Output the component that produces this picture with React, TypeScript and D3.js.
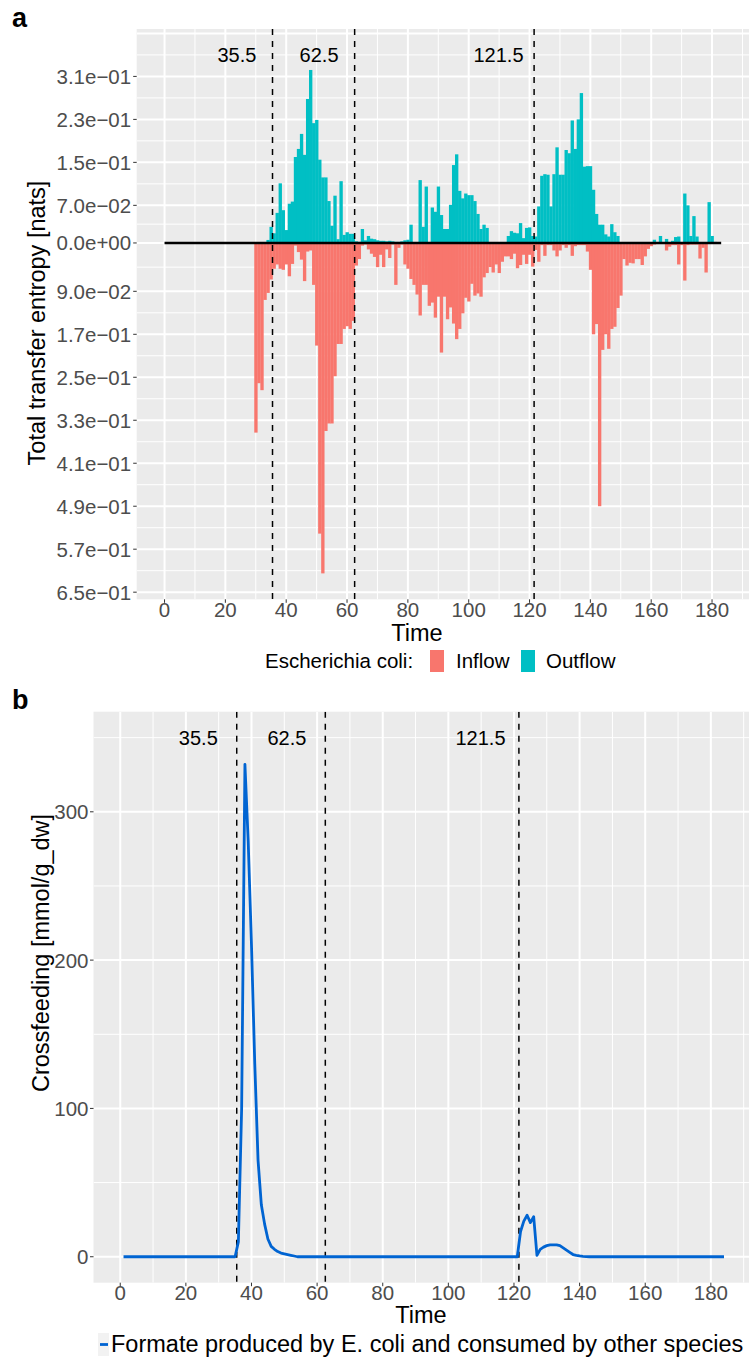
import React from "react";
import * as d3 from "d3";

const FONT = "'Liberation Sans', Arial, Helvetica, sans-serif";

// ---------- Panel a data ----------
const barTimes = d3.range(29, 183); // time points 29..182
const outflow = [
  0, 0, 0, 0, 0, 0.0056, 0.03, 0.018, 0.056, 0.111,
  0.061, 0.024, 0.073, 0.077, 0.16, 0.175, 0.203, 0.164, 0.268, 0.322,
  0.223, 0.229, 0.155, 0.122, 0.122, 0.078, 0.032, 0.088, 0.007, 0.115,
  0.015, 0.02, 0.017, 0.017, 0.003, 0.002, 0.026, 0.005, 0.013, 0.008,
  0.007, 0.005, 0.004, 0.004, 0.003, 0.004, 0.003, 0.002, 0.002, 0.003,
  0.005, 0.006, 0.034, 0, 0, 0.117, 0.03, 0.105, 0, 0.066,
  0.058, 0.105, 0.052, 0.026, 0.026, 0.071, 0.145, 0.165, 0.097, 0.083,
  0.092, 0.089, 0.089, 0.078, 0.054, 0.026, 0.034, 0.028, 0, 0,
  0, 0, 0, 0, 0.013, 0.022, 0.019, 0.018, 0.037, 0.009,
  0.028, 0.029, 0.013, 0.012, 0.068, 0.125, 0.128, 0.127, 0.068, 0.128,
  0.178, 0.127, 0.127, 0.173, 0.167, 0.228, 0.175, 0.23, 0.279, 0.142,
  0.143, 0.143, 0.099, 0.054, 0.034, 0.034, 0.016, 0.012, 0.035, 0.02,
  0.013, 0, 0, 0, 0, 0, 0, 0, 0, 0,
  0, 0, 0.006, 0, 0.013, 0, 0.0075, 0, 0.004, 0.011,
  0.012, 0, 0.092, 0.07, 0.013, 0.05, 0.012, 0, 0, 0,
  0.076, 0.013, 0.002, 0,
];
const inflow = [
  0, 0.353, 0.261, 0.274, 0.106, 0.093, 0.068, 0.048, 0.04, 0.048,
  0.05, 0.04, 0.062, 0.039, 0.005, 0.017, 0.031, 0.071, 0.016, 0.014,
  0.078, 0.191, 0.541, 0.615, 0.35, 0.336, 0.336, 0.248, 0.188, 0.188,
  0.16, 0.155, 0.16, 0.145, 0.042, 0.03, 0.005, 0.003, 0.012, 0.02,
  0.026, 0.045, 0.022, 0.045, 0.012, 0.028, 0.003, 0.078, 0.009, 0.003,
  0.04, 0.048, 0.067, 0.078, 0.096, 0.135, 0.078, 0.078, 0.117, 0.111,
  0.139, 0.1, 0.204, 0.1, 0.142, 0.12, 0.15, 0.179, 0.16, 0.131,
  0.102, 0.109, 0.076, 0.098, 0.094, 0.1, 0.064, 0.056, 0.045, 0.055,
  0.04, 0.056, 0.035, 0.025, 0.025, 0.03, 0.02, 0.047, 0.041, 0.022,
  0.039, 0.022, 0.044, 0.013, 0.035, 0.004, 0.024, 0.004, 0.004, 0.014,
  0.025, 0.014, 0.004, 0.009, 0.004, 0.024, 0.006, 0.004, 0.004, 0.004,
  0.016, 0.05, 0.17, 0.151, 0.49, 0.199, 0.17, 0.197, 0.16, 0.156,
  0.121, 0.098, 0.03, 0.042, 0.037, 0.038, 0.03, 0.03, 0.041, 0.025,
  0.011, 0.006, 0.003, 0.002, 0.002, 0.002, 0.014, 0.007, 0.004, 0.004,
  0.04, 0.004, 0.07, 0.004, 0.003, 0.003, 0.003, 0.029, 0.009, 0.055,
  0, 0, 0, 0,
];
const zeroLineRange = [0, 183];
const yBreaksA = [0.31, 0.23, 0.15, 0.07, 0, -0.09, -0.17, -0.25, -0.33, -0.41, -0.49, -0.57, -0.65];
const yLabelsA = ["3.1e\u221201", "2.3e\u221201", "1.5e\u221201", "7.0e\u221202", "0.0e+00", "9.0e\u221202", "1.7e\u221201", "2.5e\u221201", "3.3e\u221201", "4.1e\u221201", "4.9e\u221201", "5.7e\u221201", "6.5e\u221201"];
const yGridExtraA = [0.39];
const annotYA = 0.35;

// ---------- Panel b data ----------
const crossTimes = [1, 35, 36, 37, 38, 39, 40, 41, 42, 43, 44, 45, 46, 47, 48, 49, 50, 51, 52, 53, 54,
  121, 122, 123, 124, 125, 126, 127, 128, 129, 130, 131, 132, 133, 134, 135, 136, 137, 138, 139, 140, 141, 142, 143, 184];
const crossValues = [0, 0, 10, 100, 332, 280, 210, 130, 65, 35, 22, 12, 7, 5, 3.5, 2.5, 2, 1.5, 1, 0.5, 0,
  0, 17, 24, 28, 23, 27, 1, 5, 6.5, 7.5, 8, 8, 8, 7.5, 6, 4.5, 3, 1.5, 1, 0.6, 0.3, 0.1, 0, 0];
const yBreaksB = [0, 100, 200, 300];
const annotYB = 350;

// ---------- shared ----------
const xBreaks = [0, 20, 40, 60, 80, 100, 120, 140, 160, 180];
const xMinor = [10, 30, 50, 70, 90, 110, 130, 150, 170, 190];
const vlines = [35.5, 62.5, 121.5];
const legendTitleA = "Escherichia coli:";
const legendLabelsA = ["Inflow", "Outflow"];
const legendLabelB = "Formate produced by E. coli and consumed by other species";

const INFLOW = "#F8766D";
const OUTFLOW = "#00BFC4";
const LINE_B = "#0064D2";
const BG = "#EBEBEB";
const TICK_TXT = "#4D4D4D";

function midpoints(arr: number[]) {
  const s = [...arr].sort((a, b) => a - b);
  const m: number[] = [];
  for (let i = 0; i < s.length - 1; i++) m.push((s[i] + s[i + 1]) / 2);
  return m;
}

export default function App() {
  const W = 749, H = 1360;

  // Panel a geometry
  const pa = { l: 136.7, r: 749, t: 29, b: 599.3 };
  const ax = d3.scaleLinear().domain([-9.15, 192.15]).range([pa.l, pa.r]);
  const ay = d3.scaleLinear().domain([-0.66325, 0.39825]).range([pa.b, pa.t]);
  const majorYA = [...yGridExtraA, ...yBreaksA];
  const minorYA = midpoints(majorYA);

  // Panel b geometry
  const pb = { l: 93.5, r: 754, t: 711.7, b: 1282.7 };
  const bx = d3.scaleLinear().domain([-8.15, 193.15]).range([pb.l, pb.r]);
  const by = d3.scaleLinear().domain([-17.5, 367.5]).range([pb.b, pb.t]);
  const minorYB = [50, 150, 250, 350];

  const line = d3.line<number>().x((_, i) => bx(crossTimes[i])).y((d) => by(d));

  const barW = ax(1) - ax(0);

  return (
    <svg width={W} height={H} style={{ position: "absolute", left: 0, top: 0, background: "#fff" }} fontFamily={FONT}>
      <defs>
        <clipPath id="clipA"><rect x={pa.l} y={pa.t} width={pa.r - pa.l} height={pa.b - pa.t} /></clipPath>
        <clipPath id="clipB"><rect x={pb.l} y={pb.t} width={pb.r - pb.l} height={pb.b - pb.t} /></clipPath>
      </defs>

      {/* ================= Panel a ================= */}
      <text x={12} y={27} fontSize={27} fontWeight="bold" fill="#000">a</text>
      <rect x={pa.l} y={pa.t} width={pa.r - pa.l} height={pa.b - pa.t} fill={BG} />
      <g clipPath="url(#clipA)">
        {minorYA.map((v) => <line key={"amy" + v} x1={pa.l} x2={pa.r} y1={ay(v)} y2={ay(v)} stroke="#fff" strokeWidth={1} />)}
        {xMinor.map((v) => <line key={"amx" + v} x1={ax(v)} x2={ax(v)} y1={pa.t} y2={pa.b} stroke="#fff" strokeWidth={1} />)}
        {majorYA.map((v) => <line key={"aMy" + v} x1={pa.l} x2={pa.r} y1={ay(v)} y2={ay(v)} stroke="#fff" strokeWidth={2} />)}
        {xBreaks.map((v) => <line key={"aMx" + v} x1={ax(v)} x2={ax(v)} y1={pa.t} y2={pa.b} stroke="#fff" strokeWidth={2} />)}
        {barTimes.map((t, i) => inflow[i] > 0 ? (
          <rect key={"in" + t} x={ax(t - 0.5)} width={barW + 0.3} y={ay(0)} height={ay(-inflow[i]) - ay(0)} fill={INFLOW} />
        ) : null)}
        {barTimes.map((t, i) => outflow[i] > 0 ? (
          <rect key={"out" + t} x={ax(t - 0.5)} width={barW + 0.3} y={ay(outflow[i])} height={ay(0) - ay(outflow[i])} fill={OUTFLOW} />
        ) : null)}
        <line x1={ax(zeroLineRange[0])} x2={ax(zeroLineRange[1])} y1={ay(0)} y2={ay(0)} stroke="#000" strokeWidth={2.6} />
        {vlines.map((v) => <line key={"avl" + v} x1={ax(v)} x2={ax(v)} y1={pa.t} y2={pa.b} stroke="#000" strokeWidth={1.5} strokeDasharray="6,6" />)}
        {vlines.map((v) => (
          <text key={"avt" + v} x={ax(v - 11.7)} y={ay(annotYA)} fontSize={20} textAnchor="middle" dominantBaseline="central" fill="#000">{String(v)}</text>
        ))}
      </g>
      {/* axes a */}
      {yBreaksA.map((v, i) => (
        <g key={"ayt" + v}>
          <line x1={pa.l - 3.5} x2={pa.l} y1={ay(v)} y2={ay(v)} stroke="#333" strokeWidth={1} />
          <text x={pa.l - 5.5} y={ay(v)} fontSize={20.5} textAnchor="end" dominantBaseline="central" fill={TICK_TXT}>{yLabelsA[i]}</text>
        </g>
      ))}
      {xBreaks.map((v) => (
        <g key={"axt" + v}>
          <line x1={ax(v)} x2={ax(v)} y1={pa.b} y2={pa.b + 3.5} stroke="#333" strokeWidth={1} />
          <text x={ax(v)} y={617} fontSize={20.5} textAnchor="middle" fill={TICK_TXT}>{v}</text>
        </g>
      ))}
      <text x={417} y={641} fontSize={23.5} textAnchor="middle" fill="#000">Time</text>
      <text transform={`translate(45,323) rotate(-90)`} fontSize={23.5} textAnchor="middle" fill="#000">Total transfer entropy [nats]</text>
      {/* legend a */}
      <text x={265} y={668} fontSize={20.5} fill="#000">{legendTitleA}</text>
      <rect x={430} y={650} width={14} height={22} fill={INFLOW} />
      <text x={456} y={668} fontSize={20.5} fill="#000">{legendLabelsA[0]}</text>
      <rect x={521} y={650} width={14} height={22} fill={OUTFLOW} />
      <text x={546} y={668} fontSize={20.5} fill="#000">{legendLabelsA[1]}</text>

      {/* ================= Panel b ================= */}
      <text x={12} y={709} fontSize={27} fontWeight="bold" fill="#000">b</text>
      <rect x={pb.l} y={pb.t} width={pb.r - pb.l} height={pb.b - pb.t} fill={BG} />
      <g clipPath="url(#clipB)">
        {minorYB.map((v) => <line key={"bmy" + v} x1={pb.l} x2={pb.r} y1={by(v)} y2={by(v)} stroke="#fff" strokeWidth={1} />)}
        {xMinor.map((v) => <line key={"bmx" + v} x1={bx(v)} x2={bx(v)} y1={pb.t} y2={pb.b} stroke="#fff" strokeWidth={1} />)}
        {yBreaksB.map((v) => <line key={"bMy" + v} x1={pb.l} x2={pb.r} y1={by(v)} y2={by(v)} stroke="#fff" strokeWidth={2} />)}
        {xBreaks.map((v) => <line key={"bMx" + v} x1={bx(v)} x2={bx(v)} y1={pb.t} y2={pb.b} stroke="#fff" strokeWidth={2} />)}
        {vlines.map((v) => <line key={"bvl" + v} x1={bx(v)} x2={bx(v)} y1={pb.t} y2={pb.b} stroke="#000" strokeWidth={1.5} strokeDasharray="6,6" />)}
        <path d={line(crossValues) || ""} fill="none" stroke={LINE_B} strokeWidth={2.8} strokeLinejoin="round" />
        {vlines.map((v) => (
          <text key={"bvt" + v} x={bx(v - 11.7)} y={by(annotYB)} fontSize={20} textAnchor="middle" dominantBaseline="central" fill="#000">{String(v)}</text>
        ))}
      </g>
      {yBreaksB.map((v) => (
        <g key={"byt" + v}>
          <line x1={pb.l - 3.5} x2={pb.l} y1={by(v)} y2={by(v)} stroke="#333" strokeWidth={1} />
          <text x={pb.l - 5} y={by(v)} fontSize={20.5} textAnchor="end" dominantBaseline="central" fill={TICK_TXT}>{v}</text>
        </g>
      ))}
      {xBreaks.map((v) => (
        <g key={"bxt" + v}>
          <line x1={bx(v)} x2={bx(v)} y1={pb.b} y2={pb.b + 3.5} stroke="#333" strokeWidth={1} />
          <text x={bx(v)} y={1300} fontSize={20.5} textAnchor="middle" fill={TICK_TXT}>{v}</text>
        </g>
      ))}
      <text x={421} y={1323} fontSize={23.5} textAnchor="middle" fill="#000">Time</text>
      <text transform={`translate(49,953) rotate(-90)`} fontSize={23.5} textAnchor="middle" fill="#000">Crossfeeding [mmol/g_dw]</text>
      {/* legend b */}
      <rect x={98} y={1333} width={11} height={23} fill="#F2F2F2" />
      <line x1={100} x2={108} y1={1344.5} y2={1344.5} stroke={LINE_B} strokeWidth={2.8} />
      <text x={111} y={1352} fontSize={23.5} fill="#000">{legendLabelB}</text>
    </svg>
  );
}
